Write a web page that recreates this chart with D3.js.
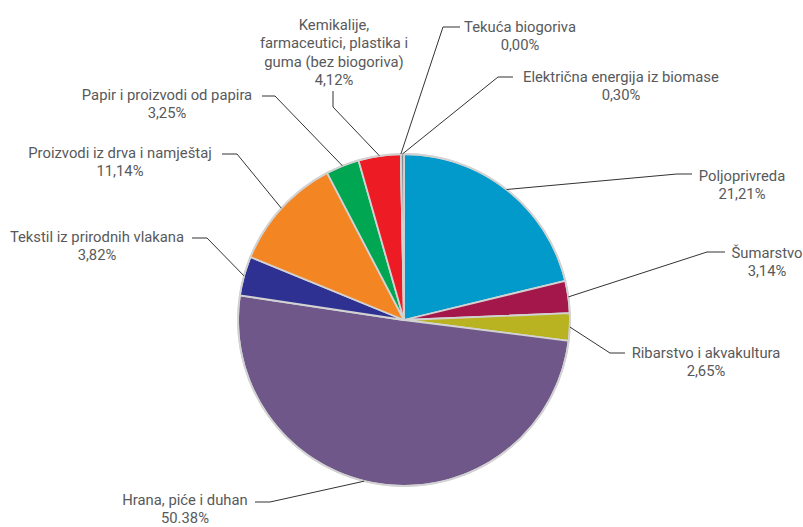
<!DOCTYPE html>
<html>
<head>
<meta charset="utf-8">
<script src="https://cdn.jsdelivr.net/npm/d3@7/dist/d3.min.js"></script>
<style>
  body { margin: 0; background: #fff; }
  svg text { font-family: Roboto, "DejaVu Sans", sans-serif; font-size: 14.8px; fill: #58595b; }
</style>
</head>
<body>
<div id="chart"></div>
<script>
// data
var categories = [
  "Poljoprivreda",
  "Šumarstvo",
  "Ribarstvo i akvakultura",
  "Hrana, piće i duhan",
  "Tekstil iz prirodnih vlakana",
  "Proizvodi iz drva i namještaj",
  "Papir i proizvodi od papira",
  "Kemikalije,\nfarmaceutici, plastika i\nguma (bez biogoriva)",
  "Tekuća biogoriva",
  "Električna energija iz biomase"
]
var values = [21.21, 3.14, 2.65, 50.38, 3.82, 11.14, 3.25, 4.12, 0.00, 0.30]
var valueLabels = ["21,21%", "3,14%", "2,65%", "50.38%", "3,82%", "11,14%", "3,25%", "4,12%", "0,00%", "0,30%"]
var colors = ["#019acb", "#a3174b", "#bab321", "#6f5789", "#2e3192", "#f38623", "#00a651", "#ed1c24", "#8a8a8a", "#8a8a8a"]

// label layout: text position, leader elbow and end (annotation placement only)
var labelLayout = [
  {tx: 742, ty: 176, anchor: "middle", elbow: [677, 174], end: [692, 174], shift: 0},
  {tx: 767, ty: 253, anchor: "middle", elbow: [707, 252], end: [725, 252], shift: 0},
  {tx: 706, ty: 353, anchor: "middle", elbow: [610, 353], end: [625, 353], shift: 0},
  {tx: 185, ty: 500, anchor: "middle", elbow: [270, 502], end: [255, 502], shift: 6},
  {tx: 97,  ty: 237, anchor: "middle", elbow: [207, 238], end: [192, 238], shift: 0},
  {tx: 120, ty: 153, anchor: "middle", elbow: [237, 154], end: [222, 154], shift: 0},
  {tx: 167, ty: 95,  anchor: "middle", elbow: [275, 96],  end: [262, 96],  shift: 0},
  {tx: 334, ty: 25,  anchor: "middle", elbow: [333, 107], end: [333, 91],  shift: 0},
  {tx: 520, ty: 27,  anchor: "middle", elbow: [443, 27],  end: [460, 27],  shift: 0},
  {tx: 523, ty: 77,  anchor: "start",  elbow: [498, 77],  end: [513, 77],  shift: 0}
]

var width = 803, height = 527
var cx = 404, cy = 320, radius = 166
var lineH = 18.3

var svg = d3.select("#chart").append("svg")
  .attr("width", width)
  .attr("height", height)

var pie = d3.pie().sort(null).value(function(d) { return d })
var arcs = pie(values)

var arc = d3.arc().innerRadius(0).outerRadius(radius)

var g = svg.append("g").attr("transform", "translate(" + cx + "," + cy + ")")

g.selectAll("path.slice")
  .data(arcs)
  .enter().append("path")
    .attr("class", "slice")
    .attr("d", arc)
    .attr("fill", function(d, i) { return colors[i] })
    .attr("stroke", "#d2d2d2")
    .attr("stroke-width", 1.8)
    .attr("stroke-linejoin", "round")

// outer ring
g.append("circle")
  .attr("r", radius)
  .attr("fill", "none")
  .attr("stroke", "#d2d2d2")
  .attr("stroke-width", 1.8)

// leader lines
arcs.forEach(function(d, i) {
  var L = labelLayout[i]
  var a = (d.startAngle + d.endAngle) / 2 + L.shift * Math.PI / 180
  var p0 = [cx + radius * Math.sin(a), cy - radius * Math.cos(a)]
  svg.append("polyline")
    .attr("points", [p0, L.elbow, L.end].map(function(p) { return p.join(",") }).join(" "))
    .attr("fill", "none")
    .attr("stroke", "#333")
    .attr("stroke-width", 1)
})

// labels
arcs.forEach(function(d, i) {
  var L = labelLayout[i]
  var lines = categories[i].split("\n")
  lines.push(valueLabels[i])
  var t = svg.append("text")
    .attr("text-anchor", L.anchor)
    .attr("dominant-baseline", "central")
  if (L.anchor == "start") {
    t.append("tspan").attr("x", L.tx).attr("y", L.ty).text(lines[0])
    // value centred under the start-anchored label
    var bw = t.node().getBBox().width
    svg.append("text")
      .attr("x", L.tx + bw / 2).attr("y", L.ty + lineH)
      .attr("text-anchor", "middle")
      .attr("dominant-baseline", "central")
      .text(valueLabels[i])
  } else {
    lines.forEach(function(s, j) {
      t.append("tspan").attr("x", L.tx).attr("y", L.ty + j * lineH).text(s)
    })
  }
})
</script>
</body>
</html>
